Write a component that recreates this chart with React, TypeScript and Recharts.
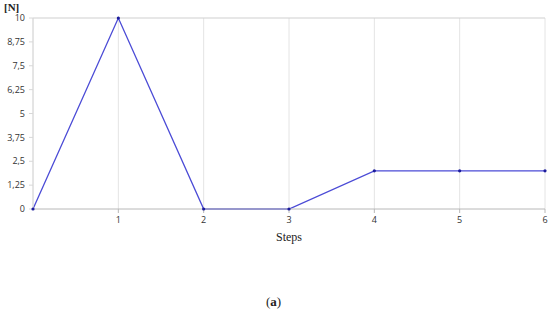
import { LineChart, Line, XAxis, YAxis, CartesianGrid, ReferenceLine, Label } from 'recharts';

const steps = [0, 1, 2, 3, 4, 5, 6];
const force = [0, 10, 0, 0, 2, 2, 2];
const xTicks = [1, 2, 3, 4, 5, 6];
const yTicks = [0, 1.25, 2.5, 3.75, 5, 6.25, 7.5, 8.75, 10];

const data = steps.map((s, i) => ({ step: s, value: force[i] }));

const tickStyle = { fontSize: 9, fill: '#333', fontFamily: '"Open Sans", sans-serif' };

export default function App() {
  return (
    <div style={{ position: 'relative', width: 550, height: 326, background: '#fff' }}>
      <style>{'body{margin:0}'}</style>
      <LineChart width={550} height={326} data={data} margin={{ top: 18, right: 5, bottom: 87, left: 0 }}>
        <CartesianGrid horizontal={false} stroke="#e4e4e4" />
        <XAxis
          dataKey="step"
          type="number"
          domain={[0, 6]}
          ticks={xTicks}
          height={30}
          stroke="#b8b8b8"
          tickSize={4}
          tickMargin={4}
          tick={tickStyle}
        >
          <Label value="Steps" position="insideBottom" offset={-2} style={{ fontSize: 12, fill: '#222', fontFamily: '"Liberation Serif", serif' }} />
        </XAxis>
        <YAxis
          type="number"
          domain={[0, 10]}
          ticks={yTicks}
          width={33}
          stroke="#d8d8d8"
          tickSize={4}
          tickMargin={4}
          tick={tickStyle}
          tickFormatter={(v: number) => String(v).replace('.', ',')}
        />
        <ReferenceLine y={10} stroke="#cfcfcf" />
        <Line
          dataKey="value"
          stroke="#4b4bd6"
          strokeWidth={1.3}
          dot={{ r: 1.6, fill: '#1c1c9c', stroke: 'none' }}
          isAnimationActive={false}
        />
      </LineChart>
      <div style={{ position: 'absolute', left: 4, top: 2, lineHeight: 1, fontFamily: '"Liberation Serif", serif', fontWeight: 'bold', fontSize: 11, color: '#222' }}>[N]</div>
      <div style={{ position: 'absolute', left: 266, top: 294, fontFamily: '"Liberation Serif", serif', fontSize: 13, color: '#222' }}>
        (<b>a</b>)
      </div>
    </div>
  );
}
